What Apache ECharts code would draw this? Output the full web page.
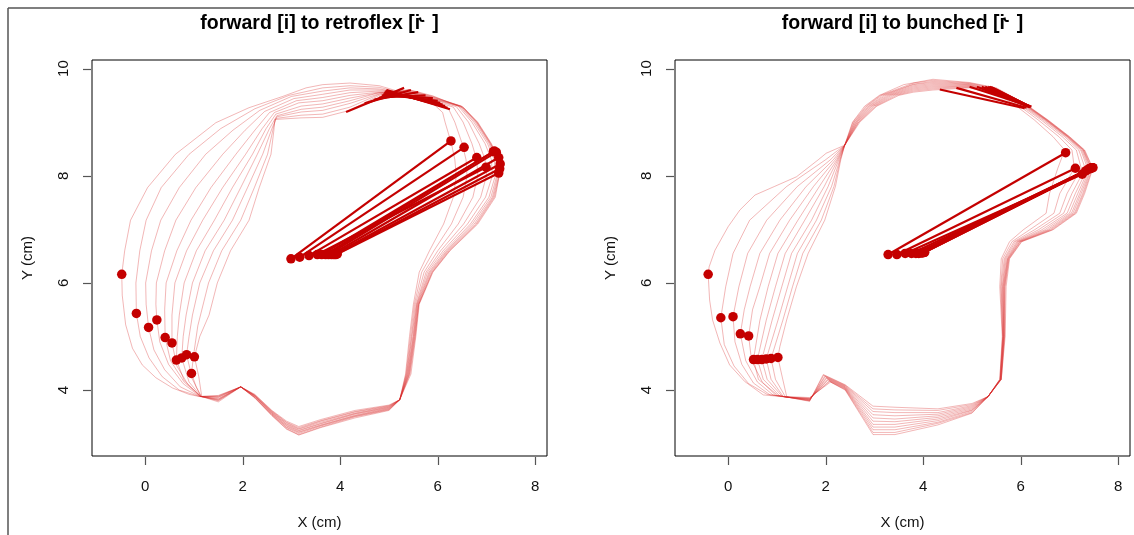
<!DOCTYPE html>
<html>
<head>
<meta charset="utf-8">
<script src="https://cdn.jsdelivr.net/npm/echarts@6/dist/echarts.min.js"></script>
<style>
html,body{margin:0;padding:0;background:#fff;}
#chart{width:1134px;height:535px;}
</style>
</head>
<body>
<div id="chart"></div>
<script>
// Tick labels
var xTicks = [0, 2, 4, 6, 8];
var yTicks = [4, 6, 8, 10];

// ---------- Panel 1: forward [i] to retroflex ----------
// Tongue outlines, one per frame of the transition (x, y in cm)
var retroOutline0 = [[1.11,3.88],[0.90,3.92],[0.56,4.04],[0.22,4.23],[-0.06,4.47],[-0.26,4.78],[-0.40,5.22],[-0.47,5.77],[-0.48,6.16],[-0.42,6.60],[-0.30,7.17],[0.05,7.78],[0.62,8.40],[1.45,8.99],[2.13,9.27],[2.82,9.48],[3.30,9.64],[3.64,9.70],[4.20,9.73],[4.80,9.68],[5.40,9.52],[5.90,9.35],[6.10,9.18],[6.15,9.00],[6.28,8.60],[6.35,8.30],[6.38,8.00],[6.32,7.60],[6.12,7.10],[5.83,6.60],[5.62,6.20],[5.50,5.60],[5.42,5.00],[5.34,4.30],[5.22,3.82],[5.00,3.72],[4.30,3.62],[3.60,3.45],[3.15,3.32],[2.90,3.42],[2.60,3.62],[2.25,3.92],[1.96,4.06],[1.50,3.90],[1.11,3.88]];
var retroOutline1 = [[1.12,3.88],[0.70,4.00],[0.35,4.25],[0.08,4.60],[-0.10,5.00],[-0.18,5.43],[-0.19,6.00],[-0.11,6.60],[0.02,7.17],[0.33,7.78],[0.90,8.40],[1.55,8.88],[2.25,9.25],[2.95,9.50],[3.64,9.64],[4.20,9.68],[4.80,9.65],[5.40,9.52],[5.90,9.38],[6.22,9.25],[6.35,9.00],[6.50,8.60],[6.58,8.30],[6.60,8.00],[6.52,7.60],[6.28,7.10],[5.92,6.60],[5.67,6.20],[5.52,5.60],[5.44,5.00],[5.35,4.30],[5.22,3.82],[5.00,3.71],[4.30,3.60],[3.60,3.43],[3.15,3.30],[2.90,3.40],[2.60,3.61],[2.25,3.91],[1.96,4.06],[1.50,3.89],[1.12,3.88]];
var retroOutline2 = [[1.13,3.88],[0.72,4.06],[0.40,4.38],[0.18,4.75],[0.07,5.17],[0.02,5.60],[0.01,6.00],[0.13,6.60],[0.32,7.17],[0.70,7.78],[1.24,8.40],[1.80,8.85],[2.35,9.22],[3.00,9.48],[3.64,9.58],[4.20,9.64],[4.80,9.62],[5.40,9.53],[5.90,9.40],[6.32,9.28],[6.52,9.00],[6.70,8.60],[6.80,8.30],[6.82,8.00],[6.72,7.60],[6.42,7.10],[6.00,6.60],[5.72,6.20],[5.54,5.60],[5.46,5.00],[5.36,4.30],[5.22,3.82],[5.00,3.70],[4.30,3.59],[3.60,3.42],[3.15,3.28],[2.90,3.39],[2.60,3.60],[2.25,3.90],[1.96,4.06],[1.50,3.88],[1.13,3.88]];
var retroOutline3 = [[1.13,3.88],[0.78,4.12],[0.48,4.48],[0.30,4.90],[0.24,5.31],[0.22,5.60],[0.23,6.00],[0.40,6.60],[0.63,7.17],[1.04,7.78],[1.59,8.40],[2.05,8.85],[2.45,9.20],[3.05,9.44],[3.64,9.52],[4.20,9.60],[4.80,9.60],[5.40,9.55],[5.90,9.42],[6.38,9.29],[6.63,9.00],[6.85,8.60],[6.97,8.30],[7.00,8.00],[6.88,7.60],[6.53,7.10],[6.06,6.60],[5.76,6.20],[5.56,5.60],[5.47,5.00],[5.37,4.30],[5.22,3.82],[5.00,3.69],[4.30,3.57],[3.60,3.40],[3.15,3.27],[2.90,3.37],[2.60,3.59],[2.25,3.90],[1.96,4.06],[1.50,3.87],[1.13,3.88]];
var retroOutline4 = [[1.14,3.88],[0.80,4.15],[0.52,4.55],[0.41,4.98],[0.40,5.50],[0.43,6.00],[0.65,6.60],[0.94,7.17],[1.35,7.78],[1.86,8.40],[2.25,8.85],[2.55,9.18],[3.10,9.40],[3.64,9.46],[4.20,9.55],[4.80,9.58],[5.40,9.55],[5.90,9.43],[6.42,9.30],[6.70,9.00],[6.97,8.60],[7.10,8.30],[7.12,8.00],[6.98,7.60],[6.61,7.10],[6.11,6.60],[5.79,6.20],[5.57,5.60],[5.49,5.00],[5.38,4.30],[5.22,3.82],[5.00,3.68],[4.30,3.56],[3.60,3.38],[3.15,3.25],[2.90,3.36],[2.60,3.58],[2.25,3.89],[1.96,4.06],[1.50,3.86],[1.14,3.88]];
var retroOutline5 = [[1.14,3.88],[0.88,4.10],[0.65,4.45],[0.55,4.88],[0.55,5.40],[0.61,6.00],[0.85,6.60],[1.18,7.17],[1.59,7.78],[2.06,8.40],[2.40,8.88],[2.65,9.18],[3.15,9.36],[3.64,9.40],[4.20,9.50],[4.80,9.56],[5.40,9.56],[5.90,9.44],[6.45,9.30],[6.74,9.00],[7.02,8.60],[7.16,8.30],[7.18,8.00],[7.05,7.60],[6.67,7.10],[6.15,6.60],[5.82,6.20],[5.58,5.60],[5.50,5.00],[5.39,4.30],[5.22,3.82],[5.00,3.67],[4.30,3.55],[3.60,3.37],[3.15,3.24],[2.90,3.34],[2.60,3.57],[2.25,3.89],[1.96,4.06],[1.50,3.84],[1.14,3.88]];
var retroOutline6 = [[1.14,3.88],[0.80,4.18],[0.64,4.56],[0.66,5.00],[0.70,5.40],[0.80,6.00],[1.05,6.60],[1.42,7.17],[1.79,7.78],[2.20,8.40],[2.48,8.88],[2.68,9.15],[3.20,9.30],[3.64,9.34],[4.20,9.45],[4.80,9.55],[5.40,9.57],[5.90,9.45],[6.47,9.30],[6.77,9.00],[7.05,8.60],[7.20,8.30],[7.21,8.00],[7.09,7.60],[6.71,7.10],[6.18,6.60],[5.84,6.20],[5.59,5.60],[5.51,5.00],[5.40,4.30],[5.22,3.82],[5.00,3.66],[4.30,3.53],[3.60,3.35],[3.15,3.22],[2.90,3.33],[2.60,3.56],[2.25,3.88],[1.96,4.06],[1.50,3.83],[1.14,3.88]];
var retroOutline7 = [[1.15,3.88],[0.90,4.15],[0.75,4.60],[0.78,5.00],[0.84,5.40],[0.97,6.00],[1.23,6.60],[1.62,7.17],[1.96,7.78],[2.30,8.40],[2.55,8.88],[2.70,9.12],[3.20,9.24],[3.64,9.28],[4.20,9.40],[4.80,9.55],[5.40,9.58],[5.90,9.46],[6.49,9.30],[6.79,9.00],[7.07,8.60],[7.23,8.30],[7.23,8.00],[7.12,7.60],[6.75,7.10],[6.20,6.60],[5.86,6.20],[5.60,5.60],[5.52,5.00],[5.41,4.30],[5.22,3.82],[5.00,3.65],[4.30,3.52],[3.60,3.34],[3.15,3.21],[2.90,3.31],[2.60,3.55],[2.25,3.87],[1.96,4.06],[1.50,3.82],[1.15,3.88]];
var retroOutline8 = [[1.15,3.88],[0.97,4.20],[0.85,4.66],[0.90,5.00],[0.97,5.40],[1.12,6.00],[1.40,6.60],[1.79,7.17],[2.10,7.78],[2.41,8.40],[2.60,8.88],[2.70,9.10],[3.20,9.19],[3.64,9.22],[4.20,9.35],[4.80,9.53],[5.40,9.59],[5.90,9.47],[6.50,9.29],[6.80,9.00],[7.08,8.60],[7.24,8.30],[7.25,8.00],[7.14,7.60],[6.78,7.10],[6.22,6.60],[5.88,6.20],[5.61,5.60],[5.53,5.00],[5.42,4.30],[5.22,3.82],[5.00,3.64],[4.30,3.51],[3.60,3.33],[3.15,3.19],[2.90,3.30],[2.60,3.54],[2.25,3.86],[1.96,4.06],[1.50,3.81],[1.15,3.88]];
var retroOutline9 = [[1.15,3.88],[1.05,4.05],[0.95,4.31],[1.00,4.70],[1.08,5.20],[1.30,6.00],[1.57,6.60],[1.96,7.17],[2.24,7.78],[2.51,8.40],[2.63,8.90],[2.68,9.07],[3.20,9.13],[3.64,9.15],[4.20,9.28],[4.80,9.52],[5.40,9.60],[5.90,9.48],[6.52,9.28],[6.81,9.00],[7.09,8.60],[7.25,8.30],[7.26,8.00],[7.16,7.60],[6.80,7.10],[6.24,6.60],[5.89,6.20],[5.61,5.60],[5.54,5.00],[5.43,4.30],[5.22,3.82],[5.00,3.63],[4.30,3.50],[3.60,3.31],[3.15,3.17],[2.90,3.28],[2.60,3.53],[2.25,3.86],[1.96,4.06],[1.50,3.80],[1.15,3.88]];
var retroOutline10 = [[1.16,3.88],[1.10,4.25],[1.01,4.62],[1.12,5.00],[1.31,5.40],[1.48,6.00],[1.75,6.60],[2.13,7.17],[2.34,7.78],[2.58,8.40],[2.64,8.85],[2.66,9.05],[3.20,9.08],[3.64,9.09],[4.20,9.22],[4.80,9.50],[5.40,9.61],[5.90,9.49],[6.55,9.25],[6.82,9.00],[7.10,8.60],[7.25,8.30],[7.26,8.00],[7.18,7.60],[6.82,7.10],[6.25,6.60],[5.90,6.20],[5.62,5.60],[5.55,5.00],[5.45,4.30],[5.22,3.82],[5.00,3.62],[4.30,3.48],[3.60,3.30],[3.15,3.16],[2.90,3.27],[2.60,3.52],[2.25,3.85],[1.96,4.06],[1.50,3.78],[1.16,3.88]];

// Sensor positions per frame: tip, blade, dorsum and the upper pair
var retroTip = [[-0.48,6.16],[-0.18,5.43],[0.07,5.17],[0.24,5.31],[0.41,4.98],[0.55,4.88],[0.64,4.56],[0.75,4.60],[0.85,4.66],[0.95,4.31],[1.01,4.62]];
var retroBlade = [[2.99,6.45],[3.17,6.48],[3.36,6.51],[3.53,6.53],[3.62,6.53],[3.70,6.53],[3.76,6.53],[3.82,6.53],[3.87,6.53],[3.91,6.53],[3.94,6.54]];
var retroDorsum = [[6.27,8.65],[6.54,8.53],[6.80,8.34],[6.99,8.16],[7.14,8.45],[7.16,8.46],[7.20,8.44],[7.25,8.34],[7.28,8.22],[7.27,8.13],[7.25,8.05]];
var retroUpperA = [[4.12,9.19],[4.50,9.35],[4.70,9.42],[4.80,9.46],[4.85,9.50],[4.88,9.52],[4.90,9.55],[4.92,9.57],[4.93,9.58],[4.94,9.59],[4.95,9.60]];
var retroUpperB = [[5.31,9.64],[5.45,9.60],[5.60,9.56],[5.75,9.50],[5.90,9.45],[6.00,9.40],[6.05,9.36],[6.10,9.33],[6.15,9.30],[6.20,9.27],[6.25,9.24]];

// ---------- Panel 2: forward [i] to bunched ----------
var bunchOutline0 = [[0.72,3.91],[0.34,4.16],[0.03,4.47],[-0.17,4.88],[-0.32,5.31],[-0.38,5.68],[-0.41,6.16],[-0.39,6.30],[-0.27,6.61],[0.00,7.05],[0.24,7.36],[0.55,7.64],[0.95,7.80],[1.40,7.98],[1.85,8.30],[2.01,8.42],[2.39,8.57],[2.70,9.00],[3.05,9.30],[3.50,9.50],[3.80,9.56],[4.20,9.60],[4.95,9.64],[5.50,9.52],[5.84,9.35],[6.28,9.04],[6.66,8.73],[6.90,8.48],[6.76,8.14],[6.59,7.67],[6.52,7.30],[6.05,6.99],[5.77,6.77],[5.60,6.45],[5.57,5.93],[5.62,5.00],[5.57,4.20],[5.33,3.88],[5.00,3.75],[4.30,3.65],[3.42,3.68],[2.97,3.70],[2.40,4.10],[1.95,4.29],[1.67,3.79],[1.20,3.87],[0.72,3.91]];
var bunchOutline1 = [[0.80,3.92],[0.42,4.12],[0.12,4.45],[-0.08,4.85],[-0.15,5.35],[-0.05,5.93],[0.10,6.55],[0.44,7.17],[1.20,7.80],[2.00,8.30],[2.39,8.57],[2.68,9.00],[3.03,9.30],[3.45,9.50],[3.80,9.58],[4.20,9.62],[4.95,9.65],[5.50,9.53],[5.90,9.35],[6.36,9.04],[6.78,8.73],[7.05,8.48],[7.10,8.14],[6.80,7.67],[6.68,7.30],[6.18,6.99],[5.82,6.77],[5.63,6.45],[5.59,5.93],[5.63,5.00],[5.57,4.20],[5.33,3.88],[5.00,3.73],[4.30,3.62],[3.42,3.63],[2.97,3.65],[2.40,4.09],[1.96,4.28],[1.67,3.80],[1.20,3.87],[0.80,3.92]];
var bunchOutline2 = [[0.86,3.91],[0.52,4.13],[0.28,4.48],[0.14,4.90],[0.10,5.37],[0.22,5.93],[0.40,6.55],[0.79,7.17],[1.42,7.80],[2.10,8.30],[2.39,8.57],[2.67,9.00],[3.00,9.30],[3.40,9.50],[3.80,9.60],[4.20,9.64],[4.95,9.66],[5.50,9.55],[5.94,9.35],[6.42,9.04],[6.85,8.73],[7.14,8.48],[7.24,8.14],[6.95,7.67],[6.80,7.30],[6.28,6.99],[5.86,6.77],[5.66,6.45],[5.60,5.93],[5.63,5.00],[5.58,4.20],[5.33,3.88],[5.00,3.71],[4.30,3.58],[3.42,3.58],[2.97,3.60],[2.40,4.08],[1.98,4.26],[1.67,3.80],[1.20,3.87],[0.86,3.91]];
var bunchOutline3 = [[0.92,3.91],[0.60,4.15],[0.36,4.55],[0.25,5.05],[0.33,5.50],[0.45,5.93],[0.65,6.55],[1.06,7.17],[1.60,7.80],[2.16,8.30],[2.39,8.57],[2.65,9.00],[2.98,9.30],[3.35,9.50],[3.80,9.62],[4.20,9.66],[4.95,9.67],[5.50,9.56],[5.97,9.35],[6.46,9.04],[6.90,8.73],[7.19,8.48],[7.32,8.14],[7.05,7.67],[6.88,7.30],[6.36,6.99],[5.89,6.77],[5.68,6.45],[5.62,5.93],[5.64,5.00],[5.58,4.20],[5.33,3.88],[5.00,3.69],[4.30,3.55],[3.42,3.52],[2.97,3.54],[2.40,4.07],[1.99,4.25],[1.67,3.81],[1.20,3.87],[0.92,3.91]];
var bunchOutline4 = [[0.98,3.90],[0.70,4.15],[0.48,4.55],[0.42,5.01],[0.50,5.50],[0.65,5.93],[0.85,6.55],[1.26,7.17],[1.75,7.80],[2.20,8.30],[2.39,8.57],[2.64,9.00],[2.95,9.30],[3.31,9.50],[3.80,9.64],[4.20,9.68],[4.95,9.68],[5.50,9.57],[6.00,9.35],[6.49,9.04],[6.93,8.73],[7.23,8.48],[7.37,8.14],[7.12,7.67],[6.95,7.30],[6.43,6.99],[5.92,6.77],[5.70,6.45],[5.63,5.93],[5.64,5.00],[5.58,4.20],[5.33,3.88],[5.00,3.67],[4.30,3.52],[3.42,3.46],[2.97,3.48],[2.40,4.06],[2.01,4.23],[1.67,3.82],[1.20,3.87],[0.98,3.90]];
var bunchOutline5 = [[1.02,3.90],[0.62,4.20],[0.52,4.57],[0.65,5.30],[0.82,5.93],[1.02,6.55],[1.43,7.17],[1.87,7.80],[2.23,8.30],[2.39,8.57],[2.62,9.00],[2.93,9.30],[3.27,9.50],[3.80,9.66],[4.20,9.70],[4.95,9.69],[5.50,9.58],[6.02,9.35],[6.51,9.04],[6.95,8.73],[7.25,8.48],[7.40,8.14],[7.17,7.67],[7.00,7.30],[6.49,6.99],[5.94,6.77],[5.72,6.45],[5.64,5.93],[5.65,5.00],[5.59,4.20],[5.33,3.88],[5.00,3.65],[4.30,3.49],[3.42,3.41],[2.97,3.42],[2.40,4.05],[2.02,4.22],[1.67,3.82],[1.20,3.87],[1.02,3.90]];
var bunchOutline6 = [[1.06,3.89],[0.72,4.20],[0.60,4.57],[0.78,5.30],[0.97,5.93],[1.17,6.55],[1.57,7.17],[1.97,7.80],[2.25,8.30],[2.39,8.57],[2.61,9.00],[2.90,9.30],[3.23,9.50],[3.80,9.68],[4.20,9.72],[4.95,9.70],[5.50,9.59],[6.04,9.35],[6.52,9.04],[6.96,8.73],[7.27,8.48],[7.42,8.14],[7.21,7.67],[7.04,7.30],[6.54,6.99],[5.96,6.77],[5.73,6.45],[5.65,5.93],[5.65,5.00],[5.59,4.20],[5.33,3.88],[5.00,3.63],[4.30,3.46],[3.42,3.36],[2.97,3.36],[2.40,4.04],[2.04,4.20],[1.67,3.83],[1.20,3.87],[1.06,3.89]];
var bunchOutline7 = [[1.10,3.89],[0.80,4.20],[0.69,4.57],[0.90,5.30],[1.10,5.93],[1.30,6.55],[1.71,7.17],[2.05,7.80],[2.27,8.30],[2.39,8.57],[2.59,9.00],[2.88,9.30],[3.19,9.50],[3.80,9.70],[4.20,9.74],[4.95,9.71],[5.50,9.60],[6.05,9.35],[6.53,9.04],[6.97,8.73],[7.28,8.48],[7.44,8.14],[7.24,7.67],[7.07,7.30],[6.58,6.99],[5.98,6.77],[5.74,6.45],[5.66,5.93],[5.66,5.00],[5.59,4.20],[5.33,3.88],[5.00,3.62],[4.30,3.43],[3.42,3.31],[2.97,3.31],[2.40,4.03],[2.05,4.19],[1.67,3.84],[1.20,3.87],[1.10,3.89]];
var bunchOutline8 = [[1.13,3.88],[0.88,4.20],[0.78,4.58],[1.02,5.30],[1.22,5.93],[1.42,6.55],[1.81,7.17],[2.12,7.80],[2.29,8.30],[2.39,8.57],[2.58,9.00],[2.85,9.30],[3.15,9.50],[3.80,9.71],[4.20,9.76],[4.95,9.72],[5.50,9.62],[6.06,9.35],[6.54,9.04],[6.98,8.73],[7.29,8.48],[7.45,8.14],[7.27,7.67],[7.10,7.30],[6.61,6.99],[5.99,6.77],[5.75,6.45],[5.67,5.93],[5.66,5.00],[5.60,4.20],[5.33,3.88],[5.00,3.60],[4.30,3.40],[3.42,3.26],[2.97,3.26],[2.40,4.02],[2.07,4.17],[1.67,3.84],[1.20,3.87],[1.13,3.88]];
var bunchOutline9 = [[1.17,3.88],[0.97,4.20],[0.88,4.59],[1.12,5.30],[1.32,5.93],[1.53,6.55],[1.91,7.17],[2.17,7.80],[2.30,8.30],[2.39,8.57],[2.56,9.00],[2.83,9.30],[3.12,9.50],[3.80,9.73],[4.20,9.78],[4.95,9.73],[5.50,9.63],[6.07,9.35],[6.55,9.04],[6.99,8.73],[7.30,8.48],[7.47,8.14],[7.29,7.67],[7.12,7.30],[6.64,6.99],[6.01,6.77],[5.76,6.45],[5.68,5.93],[5.67,5.00],[5.60,4.20],[5.33,3.88],[5.00,3.58],[4.30,3.38],[3.42,3.21],[2.97,3.21],[2.40,4.01],[2.08,4.16],[1.67,3.85],[1.20,3.87],[1.17,3.88]];
var bunchOutline10 = [[1.20,3.88],[1.09,4.32],[1.02,4.61],[1.06,4.81],[1.20,5.31],[1.40,5.93],[1.64,6.55],[1.98,7.17],[2.20,7.80],[2.31,8.30],[2.39,8.57],[2.55,9.00],[2.80,9.30],[3.10,9.50],[3.60,9.70],[4.20,9.80],[4.95,9.74],[5.50,9.64],[6.08,9.35],[6.56,9.04],[7.00,8.73],[7.31,8.48],[7.48,8.14],[7.31,7.67],[7.14,7.30],[6.66,6.99],[6.02,6.77],[5.77,6.45],[5.70,5.93],[5.68,5.00],[5.60,4.20],[5.33,3.88],[5.00,3.57],[4.30,3.35],[3.42,3.17],[2.97,3.17],[2.40,4.00],[2.10,4.15],[1.67,3.86],[1.20,3.88]];

var bunchTip = [[-0.41,6.16],[-0.15,5.35],[0.10,5.37],[0.25,5.05],[0.42,5.01],[0.52,4.57],[0.60,4.57],[0.69,4.57],[0.78,4.58],[0.88,4.59],[1.02,4.61]];
var bunchBlade = [[3.28,6.53],[3.46,6.53],[3.63,6.55],[3.76,6.55],[3.85,6.55],[3.91,6.55],[3.96,6.56],[3.99,6.56],[4.01,6.57],[4.02,6.57],[4.03,6.57]];
var bunchDorsum = [[6.92,8.43],[7.12,8.14],[7.26,8.03],[7.33,8.09],[7.38,8.12],[7.41,8.13],[7.43,8.14],[7.45,8.15],[7.46,8.15],[7.47,8.15],[7.48,8.15]];
var bunchUpperA = [[4.34,9.61],[4.68,9.64],[4.95,9.66],[5.10,9.66],[5.20,9.66],[5.27,9.66],[5.33,9.66],[5.36,9.66],[5.38,9.65],[5.40,9.65],[5.42,9.64]];
var bunchUpperB = [[6.08,9.26],[6.12,9.27],[6.22,9.29],[6.20,9.28],[6.18,9.28],[6.18,9.29],[6.17,9.29],[6.17,9.30],[6.16,9.30],[6.16,9.30],[6.15,9.30]];

var panels = [
  { title: 'forward [i] to retroflex [i\u02DE ]',
    outlines: [retroOutline0, retroOutline1, retroOutline2, retroOutline3, retroOutline4, retroOutline5, retroOutline6, retroOutline7, retroOutline8, retroOutline9, retroOutline10],
    tip: retroTip, blade: retroBlade, dorsum: retroDorsum, upperA: retroUpperA, upperB: retroUpperB },
  { title: 'forward [i] to bunched [i\u02DE ]',
    outlines: [bunchOutline0, bunchOutline1, bunchOutline2, bunchOutline3, bunchOutline4, bunchOutline5, bunchOutline6, bunchOutline7, bunchOutline8, bunchOutline9, bunchOutline10],
    tip: bunchTip, blade: bunchBlade, dorsum: bunchDorsum, upperA: bunchUpperA, upperB: bunchUpperB }
];

var FONT = 'Liberation Sans, Arial, Helvetica, sans-serif';
var RED = '#c40000';
var X_MIN = -1.09, X_MAX = 8.24, Y_MIN = 2.77, Y_MAX = 10.16;
var TICK_LEN = 9;
var gridBoxes = [
  { left: 92, top: 60, width: 455, height: 398 },
  { left: 675, top: 60, width: 455, height: 398 }
];

var grids = [], xAxes = [], yAxes = [], titles = [], series = [];
panels.forEach(function (p, i) {
  var g = gridBoxes[i];
  grids.push({ left: g.left, top: g.top, width: g.width, height: g.height, show: true,
    borderColor: '#000', borderWidth: 1, backgroundColor: 'transparent' });
  titles.push({ text: p.title, left: g.left + g.width / 2 - 5, top: 9, textAlign: 'center',
    textStyle: { fontFamily: FONT, fontSize: 19.5, fontWeight: 'bold', color: '#000' } });
  xAxes.push({ gridIndex: i, type: 'value', min: X_MIN, max: X_MAX,
    axisLine: { show: false, onZero: false }, splitLine: { show: false },
    axisTick: { show: false },
    axisLabel: { customValues: xTicks, fontFamily: FONT, fontSize: 15, color: '#111', margin: 23 },
    name: 'X (cm)', nameLocation: 'middle', nameGap: 59,
    nameTextStyle: { fontFamily: FONT, fontSize: 15, color: '#111' } });
  yAxes.push({ gridIndex: i, type: 'value', min: Y_MIN, max: Y_MAX,
    axisLine: { show: false, onZero: false }, splitLine: { show: false },
    axisTick: { show: false },
    axisLabel: { customValues: yTicks, rotate: 90, fontFamily: FONT, fontSize: 15, color: '#111', margin: 21 },
    name: 'Y (cm)', nameLocation: 'middle', nameGap: 57, nameRotate: 90,
    nameTextStyle: { fontFamily: FONT, fontSize: 15, color: '#111' } });

  // thin outlines of every frame
  p.outlines.forEach(function (c) {
    series.push({ type: 'line', xAxisIndex: i, yAxisIndex: i, data: c, symbol: 'none',
      lineStyle: { width: 0.8, color: 'rgba(215,40,40,0.42)' }, silent: true, z: 2 });
  });
  // blade-dorsum and upper sensor segments
  for (var k = 0; k < p.blade.length; k++) {
    series.push({ type: 'line', xAxisIndex: i, yAxisIndex: i, data: [p.blade[k], p.dorsum[k]],
      symbol: 'none', lineStyle: { width: 2.2, color: RED }, silent: true, z: 3 });
    series.push({ type: 'line', xAxisIndex: i, yAxisIndex: i, data: [p.upperA[k], p.upperB[k]],
      symbol: 'none', lineStyle: { width: 2.2, color: RED }, silent: true, z: 3 });
  }
  // sensor points
  series.push({ type: 'scatter', xAxisIndex: i, yAxisIndex: i,
    data: p.tip.concat(p.blade, p.dorsum), symbol: 'circle', symbolSize: 9.5,
    itemStyle: { color: RED, opacity: 1 }, silent: true, z: 4 });
});

var frame = [
  { type: 'line', shape: { x1: 8, y1: 8, x2: 1134, y2: 8 }, style: { stroke: '#555', lineWidth: 1.5 }, silent: true },
  { type: 'line', shape: { x1: 8, y1: 8, x2: 8, y2: 535 }, style: { stroke: '#555', lineWidth: 1.5 }, silent: true }
];

var chart = echarts.init(document.getElementById('chart'), null, { renderer: 'canvas' });
chart.setOption({
  animation: false,
  backgroundColor: '#fff',
  title: titles,
  grid: grids,
  xAxis: xAxes,
  yAxis: yAxes,
  series: series,
  graphic: frame
});

// Outward tick marks, placed with each grid's value-to-pixel conversion
var tickMarks = frame.slice();
panels.forEach(function (p, i) {
  xTicks.forEach(function (v) {
    var pt = chart.convertToPixel({ gridIndex: i }, [v, Y_MIN]);
    if (!pt || isNaN(pt[0])) return;
    var px = Math.round(pt[0]) + 0.5, py = Math.round(pt[1]);
    tickMarks.push({ type: 'line', silent: true, z: 100,
      shape: { x1: px, y1: py + 1, x2: px, y2: py + TICK_LEN },
      style: { stroke: '#555', lineWidth: 1.2 } });
  });
  yTicks.forEach(function (v) {
    var pt = chart.convertToPixel({ gridIndex: i }, [X_MIN, v]);
    if (!pt || isNaN(pt[1])) return;
    var px = Math.round(pt[0]), py = Math.round(pt[1]) + 0.5;
    tickMarks.push({ type: 'line', silent: true, z: 100,
      shape: { x1: px - 1, y1: py, x2: px - TICK_LEN, y2: py },
      style: { stroke: '#555', lineWidth: 1.2 } });
  });
});
chart.setOption({ graphic: tickMarks });
</script>
</body>
</html>
